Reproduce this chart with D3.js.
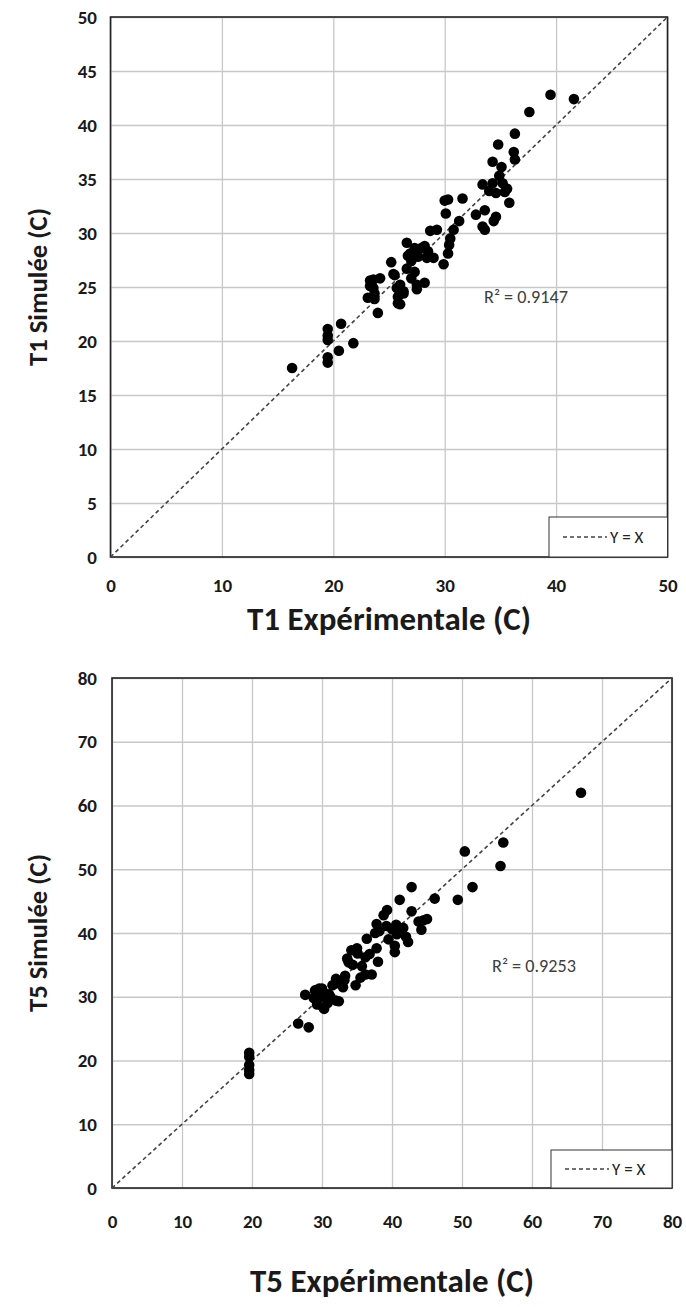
<!DOCTYPE html>
<html><head><meta charset="utf-8">
<script src="https://cdn.jsdelivr.net/npm/d3@7"></script>
<style>body{margin:0;background:#fff;} svg{display:block;}</style>
</head><body><svg id="c" width="686" height="1307"></svg>
<script>
// ---- Data: T1 ----
const t1Exp = [39.5,41.6,37.6,36.3,34.8,36.2,36.3,34.3,35.1,34.9,33.4,34.3,35.2,34.0,34.6,35.4,35.8,33.6,32.8,34.6,34.4,33.4,33.6,31.6,30.3,30.0,30.1,31.3,30.8,28.7,29.3,30.5,30.4,30.3,29.9,35.6,
  26.6,27.3,27.9,28.5,26.9,27.6,28.4,29.0,27.0,25.2,26.6,27.3,25.5,27.0,28.2,27.5,26.0,26.3,25.8,26.0,23.6,24.2,23.3,23.7,23.1,24.0,28.2,26.7,27.5,25.4,25.7,26.3,27.5,23.7,25.8,23.3,23.6,
  19.5,20.7,19.5,19.5,21.8,20.5,19.5,19.5,16.3];
const t1Sim = [42.8,42.4,41.2,39.2,38.2,37.5,36.8,36.6,36.1,35.3,34.5,34.6,34.6,33.9,33.7,33.8,32.8,32.1,31.7,31.5,31.1,30.6,30.3,33.2,33.1,33.0,31.8,31.1,30.3,30.2,30.3,29.5,28.9,28.1,27.1,34.1,
  29.1,28.6,28.6,28.3,28.1,27.8,27.7,27.7,27.4,27.3,26.7,26.4,26.1,25.8,25.4,25.2,25.2,24.4,24.1,23.4,25.7,25.8,25.1,24.4,24.0,22.6,28.8,27.9,28.2,26.2,24.9,24.6,24.8,23.9,23.5,25.6,24.9,
  21.1,21.6,20.5,20.1,19.8,19.1,18.5,18.0,17.5];
// ---- Data: T5 ----
const t5Exp = [67.0,55.9,50.4,55.5,51.5,49.4,46.1,42.8,41.1,42.8,39.3,38.8,45.0,43.8,44.2,37.8,39.2,40.6,41.6,40.7,38.2,42.0,42.3,39.5,37.6,36.4,40.4,40.4,37.8,34.2,35.1,33.6,36.2,38.0,34.4,35.7,36.2,37.1,35.5,33.3,32.0,34.8,
  30.0,29.0,27.6,28.8,30.0,31.2,32.4,29.3,30.2,33.2,32.0,29.6,30.3,31.0,28.9,32.0,30.3,26.6,28.1,
  19.6,19.6,19.6,19.6,19.6,35.0,33.8,36.8,44.5,40.0,31.5,33.0,30.8];
const t5Sim = [62.0,54.2,52.8,50.5,47.2,45.2,45.4,47.2,45.2,43.4,43.6,42.8,42.2,41.8,40.5,41.4,41.1,41.3,40.8,39.8,40.3,39.4,38.6,39.0,40.0,39.1,38.0,37.0,37.6,37.3,36.8,36.0,36.2,35.5,35.0,34.8,33.5,33.5,33.0,33.3,32.8,31.8,
  31.3,31.0,30.3,29.8,30.0,30.0,29.3,28.8,28.3,32.6,32.1,31.3,30.6,30.4,29.9,29.4,28.1,25.8,25.2,
  21.2,20.6,19.3,18.5,17.9,37.6,35.4,36.7,42.0,40.6,31.8,31.5,29.0];
// ---- Axis ticks & labels ----
const t1Ticks = [0,10,20,30,40,50];
const t1YTicks = [0,5,10,15,20,25,30,35,40,45,50];
const t5Ticks = [0,10,20,30,40,50,60,70,80];
const r2Labels = ["R\u00B2 = 0.9147", "R\u00B2 = 0.9253"];
const xTitles = ["T1 Exp\u00E9rimentale (C)", "T5 Exp\u00E9rimentale (C)"];
const yTitles = ["T1 Simul\u00E9e (C)", "T5 Simul\u00E9e (C)"];
const legendLabel = "Y = X";

const FONT = "Carlito, Calibri, Lato, 'Open Sans', sans-serif";
const svg = d3.select("#c");

function fitText(sel, target, base) {
  sel.attr("font-size", base);
  const w = sel.node().getComputedTextLength();
  sel.attr("font-size", base * target / w);
}

function panel(cfg) {
  const g = svg.append("g");
  const x = d3.scaleLinear().domain([0, cfg.max]).range([cfg.left, cfg.right]);
  const y = d3.scaleLinear().domain([0, cfg.max]).range([cfg.bottom, cfg.top]);
  const H = cfg.bottom - cfg.top, W = cfg.right - cfg.left;

  // grid
  g.append("g").attr("transform", `translate(0,${cfg.bottom})`)
    .call(d3.axisBottom(x).tickValues(cfg.xTicks).tickSize(-H).tickFormat(""))
    .call(s => s.select(".domain").remove())
    .call(s => s.selectAll("line").attr("stroke", "#c8c8c8").attr("stroke-width", 1.3));
  g.append("g").attr("transform", `translate(${cfg.left},0)`)
    .call(d3.axisLeft(y).tickValues(cfg.yTicks).tickSize(-W).tickFormat(""))
    .call(s => s.select(".domain").remove())
    .call(s => s.selectAll("line").attr("stroke", "#c8c8c8").attr("stroke-width", 1.3));

  // tick labels
  g.append("g").attr("transform", `translate(0,${cfg.bottom})`)
    .call(d3.axisBottom(x).tickValues(cfg.xTicks).tickSize(0).tickPadding(cfg.xPad))
    .call(s => s.select(".domain").remove())
    .call(s => s.selectAll("text").attr("font-family", FONT).attr("font-weight", "bold")
      .attr("font-size", 19).attr("fill", "#1a1a1a"));
  g.append("g").attr("transform", `translate(${cfg.left},0)`)
    .call(d3.axisLeft(y).tickValues(cfg.yTicks).tickSize(0).tickPadding(cfg.left - 97))
    .call(s => s.select(".domain").remove())
    .call(s => s.selectAll("text").attr("font-family", FONT).attr("font-weight", "bold")
      .attr("font-size", 19).attr("fill", "#1a1a1a"));

  // frame
  g.append("rect").attr("x", cfg.left).attr("y", cfg.top).attr("width", W).attr("height", H)
    .attr("fill", "none").attr("stroke", "#222").attr("stroke-width", 1.6);

  // y = x line
  g.append("line").attr("x1", x(0)).attr("y1", y(0)).attr("x2", x(cfg.max)).attr("y2", y(cfg.max))
    .attr("stroke", "#444").attr("stroke-width", 1.6).attr("stroke-dasharray", "4,3");

  // points
  g.append("g").selectAll("circle").data(cfg.xs.map((v, i) => [v, cfg.ys[i]])).join("circle")
    .attr("cx", d => x(d[0])).attr("cy", d => y(d[1])).attr("r", 5.3).attr("fill", "#000");

  // R2
  const r2 = g.append("text").attr("x", cfg.r2x).attr("y", cfg.r2y).attr("dominant-baseline", "central")
    .attr("font-family", FONT).attr("fill", "#404040").text(cfg.r2);
  fitText(r2, 84, 16);

  // legend
  const lx = cfg.legLeft, ly = cfg.legTop;
  g.append("rect").attr("x", lx).attr("y", ly).attr("width", cfg.right - lx).attr("height", cfg.bottom - ly)
    .attr("fill", "#fff").attr("stroke", "#333").attr("stroke-width", 1);
  const cy = (ly + cfg.bottom) / 2;
  g.append("line").attr("x1", lx + 14).attr("x2", lx + 58).attr("y1", cy).attr("y2", cy)
    .attr("stroke", "#444").attr("stroke-width", 1.6).attr("stroke-dasharray", "4,3");
  g.append("text").attr("x", lx + 61).attr("y", cy)
    .attr("dominant-baseline", "central").attr("font-family", FONT).attr("font-size", 17)
    .attr("fill", "#222").text(legendLabel);

  // titles
  const xt = g.append("text").attr("x", (cfg.left + cfg.right) / 2).attr("y", cfg.xTitleY)
    .attr("text-anchor", "middle").attr("dominant-baseline", "central")
    .attr("font-family", FONT).attr("font-weight", "bold").attr("fill", "#1a1a1a").text(cfg.xTitle);
  fitText(xt, 284, 26);
  const yt = g.append("text").attr("transform", `translate(38,${(cfg.top + cfg.bottom) / 2}) rotate(-90)`)
    .attr("text-anchor", "middle").attr("dominant-baseline", "central")
    .attr("font-family", FONT).attr("font-weight", "bold").attr("fill", "#1a1a1a").text(cfg.yTitle);
  fitText(yt, 158, 24);
}

panel({max: 50, left: 110.5, right: 667.5, top: 17, bottom: 557, xTicks: t1Ticks, yTicks: t1YTicks,
  xs: t1Exp, ys: t1Sim, r2: r2Labels[0], r2x: 484, r2y: 297, legLeft: 549, legTop: 517,
  xPad: 22, xTitleY: 619, xTitle: xTitles[0], yTitle: yTitles[0]});
panel({max: 80, left: 112, right: 672, top: 678, bottom: 1188, xTicks: t5Ticks, yTicks: t5Ticks,
  xs: t5Exp, ys: t5Sim, r2: r2Labels[1], r2x: 492, r2y: 966, legLeft: 551, legTop: 1150,
  xPad: 27, xTitleY: 1281, xTitle: xTitles[1], yTitle: yTitles[1]});
</script></body></html>
